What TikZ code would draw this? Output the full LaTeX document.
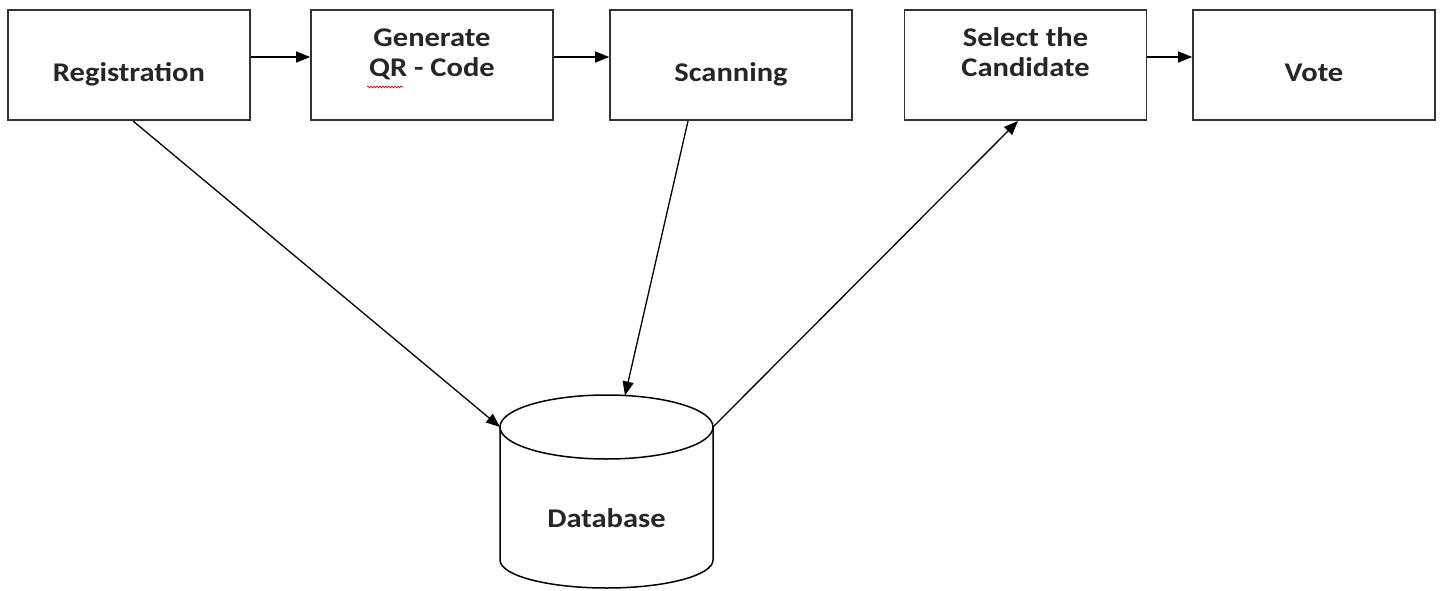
\documentclass[tikz,border=0pt]{standalone}
\usepackage{fontspec}
\setmainfont[FakeStretch=1.13]{Carlito}
\usetikzlibrary{arrows.meta,decorations.pathmorphing}
\begin{document}
\begin{tikzpicture}[x=1pt,y=-1pt,
  stepbox/.style={draw=black!80,line width=1.6pt,minimum width=242pt,minimum height=110pt,inner sep=0pt},
  lbl/.style={font=\fontsize{27}{30}\selectfont\bfseries,align=center,inner sep=0pt,text=black!85},
  conn/.style={draw=black,line width=1.3pt,-{Triangle[length=14pt,width=11pt]}},
  cyl/.style={draw=black,line width=1.5pt}]
\useasboundingbox (0,0) rectangle (1442,591);
\fill[white] (0,0) rectangle (1442,591);
% boxes
\node[stepbox] (reg) at (129,65) {};
\node[stepbox] (gen) at (432,65) {};
\node[stepbox] (scan) at (731,65) {};
\node[stepbox] (sel) at (1025.5,65) {};
\node[stepbox] (vote) at (1314,65) {};
% labels
\node[lbl,anchor=base] (regT) at (129,82) {Registration};
\node[lbl,anchor=base] (genT) at (432,77) {Generate\\QR - Code};
\node[lbl,anchor=base] (scanT) at (731,82) {Scanning};
\node[lbl,anchor=base] (selT) at (1025.5,77) {Select the\\Candidate};
\node[lbl,anchor=base] (voteT) at (1314,82) {Vote};
% spell-check underline
\coordinate (sq1) at (367,87);
\coordinate (sq2) at (403,87);
\draw[red!80!black,line width=0.6pt,decorate,decoration={snake,amplitude=1pt,segment length=3pt}] (sq1) -- (sq2);
% database
\draw[cyl] (500,427) -- (500,560) arc[start angle=180,end angle=360,x radius=106.5pt,y radius=28pt] -- (713,427);
\draw[cyl] (606.5,427) ellipse [x radius=106.5pt,y radius=32pt];
\coordinate (dbL) at (500,427);
\coordinate (dbT) at (625,395.5);
\coordinate (dbR) at (713,427);
\node[lbl,anchor=base] (db) at (606.5,527) {Database};
% connectors
\coordinate (regB) at (133,121);
\coordinate (scanB) at (688,121);
\coordinate (selB) at (1018,121);
\draw[conn] ([yshift=8pt]reg.east) -- ([yshift=8pt]gen.west);
\draw[conn] ([yshift=8pt]gen.east) -- ([yshift=8pt]scan.west);
\draw[conn] ([yshift=8pt]sel.east) -- ([yshift=8pt]vote.west);
\draw[conn] (regB) -- (dbL);
\draw[conn] (scanB) -- (dbT);
\draw[conn] (dbR) -- (selB);
\end{tikzpicture}
\end{document}
